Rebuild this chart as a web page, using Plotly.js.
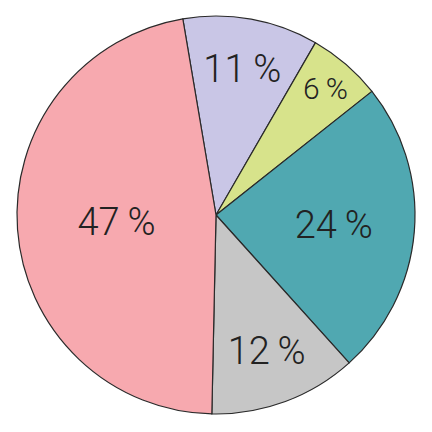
<!DOCTYPE html>
<html>
<head>
<meta charset="utf-8">
<script src="https://cdn.plot.ly/plotly-3.0.1.min.js"></script>
<style>html,body{margin:0;padding:0;background:#fff;}#chart{width:432px;height:432px;}</style>
</head>
<body>
<div id="chart"></div>
<script>
var categories = ["A", "B", "C", "D", "E"];
var values = [11, 6, 24, 12, 47];
var sliceColors = ["#c9c6e6", "#d7e38b", "#50a8b1", "#c6c6c6", "#f7a9af"];
var labelTexts = values.map(function (v) { return v + "\u2009%"; });
var fontSizes = [38, 30, 38, 38, 38];

var trace = {
  type: "pie",
  labels: categories,
  values: values,
  text: labelTexts,
  textinfo: "text",
  textposition: "inside",
  insidetextorientation: "horizontal",
  sort: false,
  direction: "clockwise",
  rotation: -9.6,
  marker: { colors: sliceColors, line: { color: "#2a2a2a", width: 1.2 } },
  textfont: { family: "Roboto, Liberation Sans, Arial, sans-serif", weight: 300, size: fontSizes, color: "#222222" },
  hoverinfo: "none",
  showlegend: false
};

var layout = {
  width: 432,
  height: 432,
  margin: { l: 17, r: 17, t: 16, b: 18 },
  paper_bgcolor: "#ffffff",
  showlegend: false
};

Plotly.newPlot("chart", [trace], layout, { displayModeBar: false, staticPlot: true });
</script>
</body>
</html>
